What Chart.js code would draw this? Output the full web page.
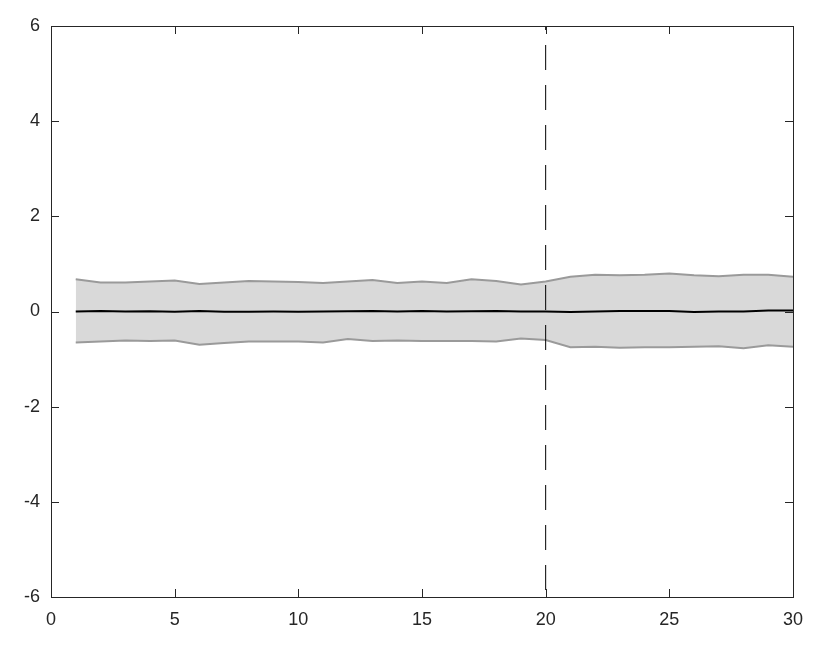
<!DOCTYPE html>
<html>
<head>
<meta charset="utf-8">
<script src="https://cdn.jsdelivr.net/npm/chart.js@4"></script>
<style>
	html, body { margin: 0; padding: 0; background: #fff; }
	#wrap { width: 830px; height: 648px; }
</style>
</head>
<body>
<div id="wrap"><canvas id="chart" width="830" height="648"></canvas></div>
<script>
// Values
const steps = [1, 2, 3, 4, 5, 6, 7, 8, 9, 10, 11, 12, 13, 14, 15, 16, 17, 18, 19, 20, 21, 22, 23, 24, 25, 26, 27, 28, 29, 30];
const upper = [0.68, 0.61, 0.61, 0.63, 0.65, 0.58, 0.61, 0.64, 0.63, 0.62, 0.60, 0.63, 0.66, 0.60, 0.63, 0.60, 0.68, 0.64, 0.57, 0.63,
	0.73, 0.77, 0.76, 0.77, 0.80, 0.76, 0.74, 0.77, 0.77, 0.73];
const lower = [-0.65, -0.63, -0.61, -0.62, -0.61, -0.70, -0.66, -0.63, -0.63, -0.63, -0.65, -0.58, -0.62, -0.61, -0.62, -0.62, -0.62, -0.63, -0.57, -0.60,
	-0.75, -0.74, -0.76, -0.75, -0.75, -0.74, -0.73, -0.77, -0.71, -0.74];
const mean = [0.0, 0.01, 0.0, 0.005, -0.005, 0.01, -0.005, -0.005, 0.0, -0.005, 0.0, 0.005, 0.01, 0.0, 0.01, 0.0, 0.005, 0.01, 0.0, 0.0,
	-0.01, 0.0, 0.01, 0.01, 0.01, -0.01, 0.0, 0.0, 0.02, 0.02];
const splitAt = 20;
const xTicks = [0, 5, 10, 15, 20, 25, 30];
const yTicks = [-6, -4, -2, 0, 2, 4, 6];

const axisColor = "#262626";
const pts = (ys) => steps.map((x, i) => ({ x: x, y: ys[i] }));

// Box round the plot with inward ticks on all four sides
const boxPlugin = {
	id: "box",
	afterDraw(chart) {
		const { ctx, chartArea: a, scales } = chart;
		ctx.save();
		ctx.strokeStyle = axisColor;
		ctx.lineWidth = 1;
		ctx.strokeRect(a.left + 0.5, a.top + 0.5, a.right - a.left, a.bottom - a.top);
		ctx.beginPath();
		xTicks.forEach((v) => {
			const px = Math.round(scales.x.getPixelForValue(v)) + 0.5;
			ctx.moveTo(px, a.bottom);
			ctx.lineTo(px, a.bottom - 8);
			ctx.moveTo(px, a.top);
			ctx.lineTo(px, a.top + 8);
		});
		yTicks.forEach((v) => {
			const py = Math.round(scales.y.getPixelForValue(v)) + 0.5;
			ctx.moveTo(a.left, py);
			ctx.lineTo(a.left + 8, py);
			ctx.moveTo(a.right, py);
			ctx.lineTo(a.right - 8, py);
		});
		ctx.stroke();
		ctx.restore();
	},
};

new Chart(document.getElementById("chart"), {
	type: "line",
	data: {
		// later datasets are drawn first, so the shaded band goes last
		datasets: [
			{
				data: pts(mean),
				borderColor: "#000000",
				borderWidth: 2,
				fill: false,
				pointRadius: 0,
				tension: 0,
			},
			{
				data: [{ x: splitAt, y: 6 }, { x: splitAt, y: -6 }],
				borderColor: "#000000",
				borderWidth: 1,
				borderDash: [25, 15],
				borderDashOffset: 21,
				fill: false,
				pointRadius: 0,
			},
			{
				data: pts(lower),
				borderColor: "#9a9a9a",
				borderWidth: 2,
				fill: false,
				pointRadius: 0,
				tension: 0,
			},
			{
				data: pts(upper),
				borderColor: "#9a9a9a",
				borderWidth: 2,
				backgroundColor: "#d9d9d9",
				fill: "-1",
				pointRadius: 0,
				tension: 0,
			},
		],
	},
	options: {
		responsive: false,
		animation: false,
		layout: { padding: { top: 26, right: 37, left: 0, bottom: 0 } },
		plugins: { legend: { display: false }, tooltip: { enabled: false } },
		scales: {
			x: {
				type: "linear",
				min: 0,
				max: 30,
				afterBuildTicks: (s) => { s.ticks = xTicks.map((v) => ({ value: v })); },
				afterFit: (s) => { s.height = 51; },
				grid: { display: false, drawTicks: false },
				border: { display: false },
				ticks: {
					padding: 12,
					maxRotation: 0,
					color: axisColor,
					font: { family: "Liberation Sans", size: 18 },
				},
			},
			y: {
				min: -6,
				max: 6,
				afterBuildTicks: (s) => { s.ticks = yTicks.map((v) => ({ value: v })); },
				afterFit: (s) => { s.width = 51; },
				grid: { display: false, drawTicks: false },
				border: { display: false },
				ticks: {
					padding: 11,
					color: axisColor,
					font: { family: "Liberation Sans", size: 18 },
				},
			},
		},
	},
	plugins: [boxPlugin],
});
</script>
</body>
</html>
